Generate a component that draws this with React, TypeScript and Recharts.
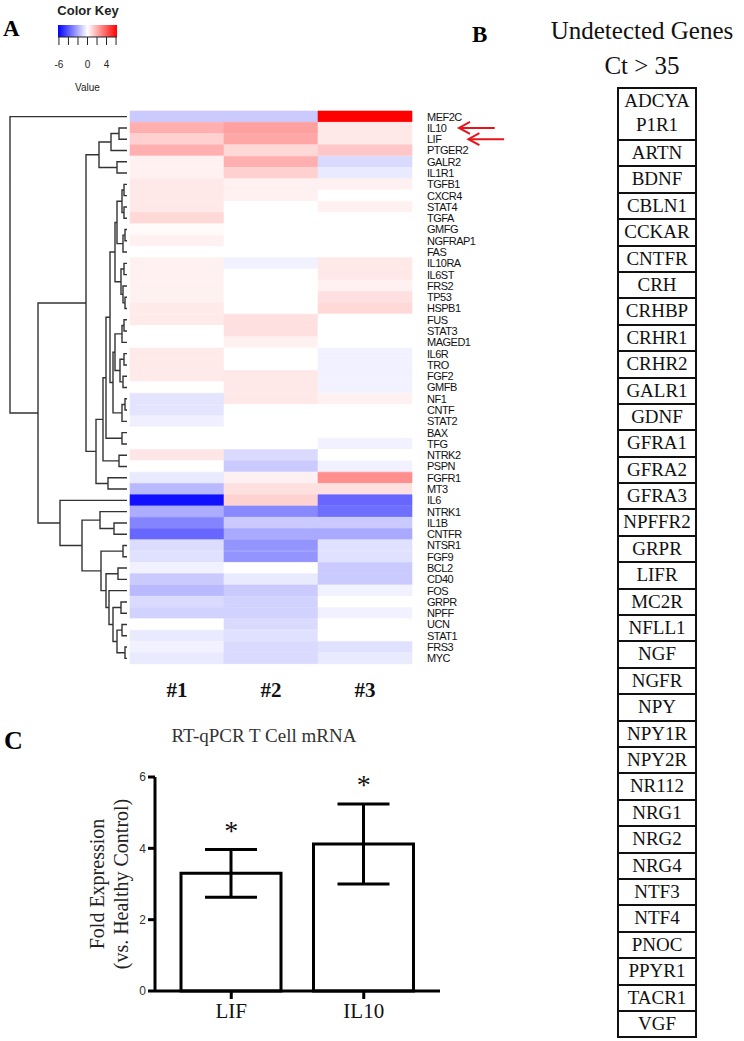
import React from "react";
import {
  BarChart,
  Bar,
  Cell,
  XAxis,
  YAxis,
  LineChart,
  Line,
  ComposedChart,
  ReferenceArea,
  ReferenceLine,
  ErrorBar,
  Scatter,
} from "recharts";

// ---- panel A: heatmap rows (top to bottom) ----
const genes = [
  "MEF2C", "IL10", "LIF", "PTGER2", "GALR2", "IL1R1", "TGFB1", "CXCR4", "STAT4", "TGFA",
  "GMFG", "NGFRAP1", "FAS", "IL10RA", "IL6ST", "FRS2", "TP53", "HSPB1", "FUS", "STAT3",
  "MAGED1", "IL6R", "TRO", "FGF2", "GMFB", "NF1", "CNTF", "STAT2", "BAX", "TFG",
  "NTRK2", "PSPN", "FGFR1", "MT3", "IL6", "NTRK1", "IL1B", "CNTFR", "NTSR1", "FGF9",
  "BCL2", "CD40", "FOS", "GRPR", "NPFF", "UCN", "STAT1", "FRS3", "MYC",
];

const sample1 = [
  -1.3, 1.95, 1.15, 1.95, 0.35, 0.35, 0.55, 0.55, 0.55, 0.95,
  0.1, 0.35, 0, 0.35, 0.35, 0.35, 0.35, 0.5, 0.5, 0,
  0, 0.5, 0.5, 0.5, 0, -0.65, -0.65, -0.4, 0, 0,
  0.6, 0, -0.5, -1.7, -5.8, -2.0, -3.0, -3.7, -0.85, -0.75,
  -0.35, -1.3, -1.7, -0.9, -1.1, 0, -0.5, -0.35, -0.5,
];
const sample2 = [
  -1.3, 2.3, 2.15, 0.95, 1.95, 1.15, 0.35, 0.35, 0, 0,
  0, 0, 0, -0.35, 0, 0, 0, 0, 0.75, 0.75,
  0.35, 0, 0, 0.55, 0.55, 0.55, 0, 0, 0, 0,
  -0.9, -1.3, 0.35, 0.75, 1.1, -2.9, -1.3, -2.1, -2.6, -2.6,
  0, -0.5, -1.3, -1.1, -1.1, -0.9, -0.75, -0.9, -0.9,
];
const sample3 = [
  6.2, 0.55, 0.55, 1.35, -0.9, -0.5, 0.35, 0, 0.35, 0,
  0, 0, 0, 0.55, 0.55, 0.35, 0.75, 0.95, 0, 0,
  0, -0.35, -0.35, -0.35, -0.35, 0.35, 0, 0, 0, -0.35,
  0, -0.35, 2.75, 0.75, -3.7, -3.5, -1.3, -2.1, -0.75, -0.75,
  -1.3, -1.3, -0.35, 0, -0.35, 0, 0, -0.75, -0.5,
];
const sampleLabels = ["#1", "#2", "#3"];
const arrowGenes = ["IL10", "LIF"];

// row dendrogram: [merge height, left, right]
const dendrogram: any = [117, "MEF2C",
  [89,
    [41,
      [28,
        [16, [8, "IL10", "LIF"], "PTGER2"],
        [10, "GALR2", "IL1R1"]],
      [31,
        [24,
          [21,
            [17,
              [12,
                [10, [5, [3, "TGFB1", "CXCR4"], [3, "STAT4", "TGFA"]], [4, [2, "GMFG", "NGFRAP1"], "FAS"]],
                [6, [3, "IL10RA", "IL6ST"], [4, "FRS2", [2, "TP53", "HSPB1"]]]],
              [14,
                [12, [5, [3, "FUS", "STAT3"], "MAGED1"], [7, [3, "IL6R", "TRO"], [4, "FGF2", "GMFB"]]],
                [5, [2, "NF1", "CNTF"], "STAT2"]]],
            [5, "BAX", "TFG"]],
          [8, "NTRK2", "PSPN"]],
        [19, "FGFR1", "MT3"]]],
    [67, "IL6",
      [45,
        [27, "NTRK1", [13, "IL1B", "CNTFR"]],
        [26, [4, "NTSR1", "FGF9"],
          [21, [9, "BCL2", "CD40"],
            [18, "FOS",
              [14, [6, "GRPR", "NPFF"],
                [10, [5, "UCN", "STAT1"], [2, "FRS3", "MYC"]]]]]]]]]];

// colour key
const keyTicks = [-6, -4, -2, 0, 2, 4, 6];
const keyLabels = [-6, 0, 4];

// ---- panel B ----
const undetectedGenes = [
  "ADCYA\nP1R1", "ARTN", "BDNF", "CBLN1", "CCKAR", "CNTFR", "CRH", "CRHBP", "CRHR1", "CRHR2",
  "GALR1", "GDNF", "GFRA1", "GFRA2", "GFRA3", "NPFFR2", "GRPR", "LIFR", "MC2R", "NFLL1",
  "NGF", "NGFR", "NPY", "NPY1R", "NPY2R", "NR112", "NRG1", "NRG2", "NRG4", "NTF3",
  "NTF4", "PNOC", "PPYR1", "TACR1", "VGF",
];

// ---- panel C ----
const qpcrGenes = ["LIF", "IL10"];
const qpcrMean = [3.3, 4.12];
const qpcrSem = [0.67, 1.12];
const qpcrTicks = [0, 2, 4, 6];

const serif = "'Liberation Serif', 'Times New Roman', serif";
const sans = "'Liberation Sans', Arial, sans-serif";

const heatColor = (v: number) => {
  const t = Math.min(Math.abs(v) / 6.2, 1);
  const c = Math.round(255 * (1 - t));
  return v >= 0 ? `rgb(255,${c},${c})` : `rgb(${c},${c},255)`;
};

const heatRows = genes.map((gene) => ({ gene, s1: 1, s2: 1, s3: 1 }));
const sampleValues = [sample1, sample2, sample3];

// walk the tree, emit bracket paths broken with nulls
const dendroPoints: { h: number; y: number | null }[] = [];
function walk(node: any): { h: number; y: number } {
  if (typeof node === "string") return { h: 0, y: genes.indexOf(node) };
  const [h, l, r] = node;
  const a = walk(l);
  const b = walk(r);
  dendroPoints.push(
    { h: a.h, y: a.y },
    { h, y: a.y },
    { h, y: b.y },
    { h: b.h, y: b.y },
    { h: b.h, y: null }
  );
  return { h, y: (a.y + b.y) / 2 };
}
walk(dendrogram);

const keyData = [
  { v: -6.2, y: 0.5 },
  { v: 6.2, y: 0.5 },
];

const qpcrData = qpcrGenes.map((gene, i) => ({
  gene,
  mean: qpcrMean[i],
  sem: qpcrSem[i],
  star: qpcrMean[i] + qpcrSem[i] + 0.55,
}));

const arrowShape = (props: any) => {
  const { x1, y1, x2, y2 } = props;
  return (
    <g stroke="#e8141b" strokeWidth={2} fill="none">
      <line x1={x1} y1={y1} x2={x2} y2={y2} />
      <polyline points={`${x1 + 11},${y1 - 6} ${x1},${y1} ${x1 + 11},${y1 + 6}`} />
    </g>
  );
};

const StarShape = (props: any) => (
  <text
    x={props.cx}
    y={props.cy + 10}
    textAnchor="middle"
    fontSize={28}
    fontFamily={serif}
    fill="#111"
  >
    *
  </text>
);

const YLabel = (props: any) => {
  const { viewBox } = props;
  const cy = viewBox.y + viewBox.height / 2;
  return (
    <g fontFamily={serif} fontSize={20} fill="#222" textAnchor="middle">
      <text x={viewBox.x + 37} y={cy} transform={`rotate(-90 ${viewBox.x + 37} ${cy})`} dy="0.35em">
        Fold Expression
      </text>
      <text x={viewBox.x + 61} y={cy} transform={`rotate(-90 ${viewBox.x + 61} ${cy})`} dy="0.35em">
        (vs. Healthy Control)
      </text>
    </g>
  );
};

const abs = (left: number, top: number): React.CSSProperties => ({
  position: "absolute",
  left,
  top,
});

export default function App() {
  return (
    <div style={{ position: "absolute", left: 0, top: 0, width: 744, height: 1041, background: "#fff" }}>
      {/* panel letters */}
      <div style={{ ...abs(3, 16), fontFamily: serif, fontWeight: "bold", fontSize: 23 }}>A</div>
      <div style={{ ...abs(472, 22), fontFamily: serif, fontWeight: "bold", fontSize: 23 }}>B</div>
      <div style={{ ...abs(4, 726), fontFamily: serif, fontWeight: "bold", fontSize: 26 }}>C</div>

      {/* colour key */}
      <div style={{ ...abs(48, 3), width: 80, textAlign: "center", fontFamily: sans, fontSize: 13, fontWeight: "bold", color: "#222" }}>
        Color Key
      </div>
      <div style={abs(50, 18)}>
        <ComposedChart width={80} height={80} data={keyData} margin={{ top: 7, right: 13, left: 8, bottom: 0 }}>
          <defs>
            <linearGradient id="keyGrad" x1="0" y1="0" x2="1" y2="0">
              <stop offset="0%" stopColor="#0000ff" />
              <stop offset="50%" stopColor="#ffffff" />
              <stop offset="100%" stopColor="#ff0000" />
            </linearGradient>
          </defs>
          <XAxis
            type="number"
            dataKey="v"
            domain={[-6.2, 6.2]}
            ticks={keyTicks}
            interval={0}
            tickFormatter={(v: number) => (keyLabels.includes(v) ? String(v) : "")}
            tickSize={8}
            tickMargin={16}
            height={61}
            stroke="#222"
            tick={{ fontSize: 10, fontFamily: sans, fill: "#222" }}
            label={{ value: "Value", position: "insideBottom", offset: 7, fontSize: 10, fontFamily: sans, fill: "#222" }}
          />
          <YAxis type="number" domain={[0, 1]} hide />
          <ReferenceArea x1={-6.2} x2={6.2} y1={0} y2={1} fill="url(#keyGrad)" fillOpacity={1} stroke="none" />
          <Line dataKey="y" stroke="none" dot={false} isAnimationActive={false} />
        </ComposedChart>
      </div>

      {/* dendrogram */}
      <div style={abs(0, 0)}>
        <LineChart width={140} height={720} data={dendroPoints} margin={{ top: 111, right: 13, left: 10, bottom: 56 }}>
          <XAxis type="number" dataKey="h" domain={[0, 117]} reversed hide />
          <YAxis type="number" domain={[-0.5, genes.length - 0.5]} reversed hide />
          <Line
            dataKey="y"
            type="linear"
            stroke="#333"
            strokeWidth={1.4}
            dot={false}
            connectNulls={false}
            isAnimationActive={false}
          />
        </LineChart>
      </div>

      {/* heatmap */}
      <div style={abs(0, 0)}>
        <BarChart
          layout="vertical"
          width={744}
          height={720}
          data={heatRows}
          margin={{ top: 111, right: 252, left: 130, bottom: 16 }}
          barCategoryGap={0}
        >
          <XAxis
            type="number"
            domain={[0, 3]}
            ticks={[0.5, 1.5, 2.5]}
            tickFormatter={(v: number) => sampleLabels[Math.floor(v)]}
            axisLine={false}
            tickLine={false}
            tickMargin={12}
            height={40}
            tick={{ fontSize: 21, fontFamily: serif, fontWeight: "bold", fill: "#111" }}
          />
          <YAxis
            type="category"
            dataKey="gene"
            orientation="right"
            width={80}
            axisLine={false}
            tickLine={false}
            tickMargin={9}
            interval={0}
            tick={{ fontSize: 11, fontFamily: sans, fill: "#111", letterSpacing: -0.5 }}
          />
          {["s1", "s2", "s3"].map((k, j) => (
            <Bar key={k} dataKey={k} stackId="heat" isAnimationActive={false}>
              {sampleValues[j].map((v, i) => (
                <Cell key={i} fill={heatColor(v)} stroke={heatColor(v)} strokeWidth={0.6} />
              ))}
            </Bar>
          ))}
          <ReferenceLine
            segment={[{ x: 3.5, y: arrowGenes[0] }, { x: 3.88, y: arrowGenes[0] }]}
            ifOverflow="visible"
            shape={arrowShape}
          />
          <ReferenceLine
            segment={[{ x: 3.6, y: arrowGenes[1] }, { x: 3.98, y: arrowGenes[1] }]}
            ifOverflow="visible"
            shape={arrowShape}
          />
        </BarChart>
      </div>

      {/* panel B table */}
      <div style={{ ...abs(530, 13), width: 224, textAlign: "center", fontFamily: serif, fontSize: 25, color: "#111", lineHeight: "35px" }}>
        Undetected Genes
        <br />
        Ct &gt; 35
      </div>
      <div style={{ ...abs(617, 87), width: 80, border: "2px solid #111", boxSizing: "border-box", fontFamily: serif, fontSize: 19, color: "#111" }}>
        {undetectedGenes.map((g, i) => (
          <div
            key={g}
            style={{
              height: i === 0 ? 50 : 26.4,
              borderTop: i === 0 ? "none" : "2px solid #111",
              boxSizing: "border-box",
              textAlign: "center",
              whiteSpace: "pre-line",
              lineHeight: "24px",
            }}
          >
            {g}
          </div>
        ))}
      </div>

      {/* panel C */}
      <div style={{ ...abs(164, 725), width: 200, textAlign: "center", fontFamily: serif, fontSize: 19, color: "#333", whiteSpace: "nowrap" }}>
        RT-qPCR T Cell mRNA
      </div>
      <div style={abs(0, 700)}>
        <ComposedChart width={470} height={341} data={qpcrData} margin={{ top: 77, right: 30, bottom: 10, left: 60 }}>
          <XAxis
            dataKey="gene"
            padding={{ left: 10, right: 10 }}
            stroke="#000"
            strokeWidth={3}
            tickSize={8}
            tickMargin={4}
            height={40}
            tick={{ fontSize: 21, fontFamily: serif, fill: "#111" }}
          />
          <YAxis
            type="number"
            domain={[0, 6]}
            ticks={qpcrTicks}
            width={95}
            stroke="#000"
            strokeWidth={3}
            tickSize={7}
            tickMargin={2}
            tick={{ fontSize: 12, fontFamily: sans, fill: "#333" }}
            label={<YLabel />}
          />
          <Bar dataKey="mean" fill="#fff" stroke="#000" strokeWidth={3} barSize={100} isAnimationActive={false}>
            <ErrorBar dataKey="sem" width={26} stroke="#000" strokeWidth={3} direction="y" />
          </Bar>
          <Scatter dataKey="star" shape={StarShape} isAnimationActive={false} />
        </ComposedChart>
      </div>
    </div>
  );
}
